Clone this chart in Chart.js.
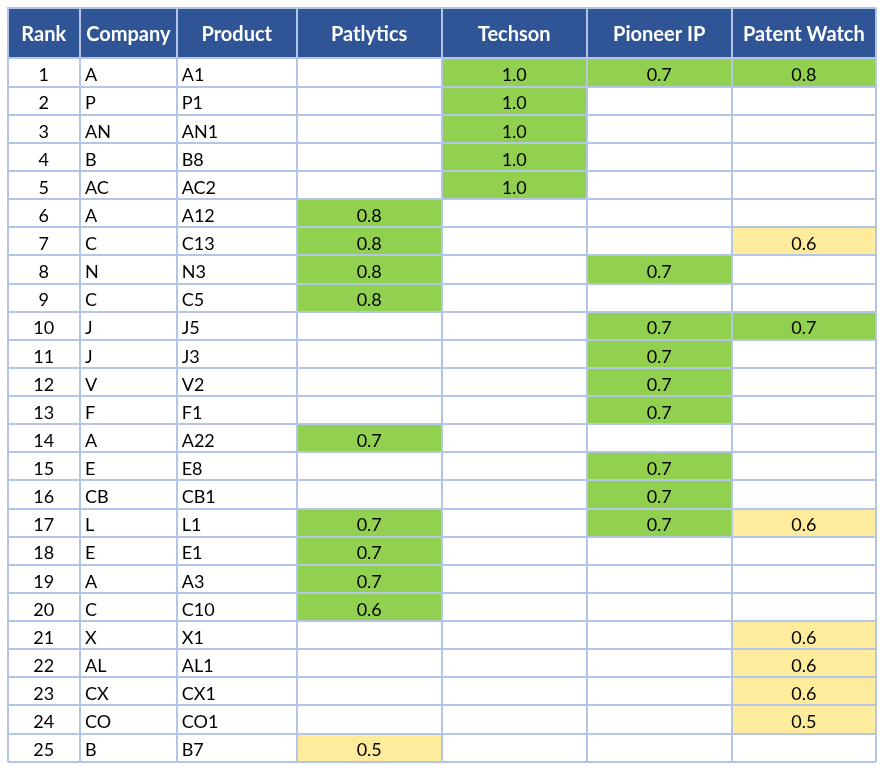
<!DOCTYPE html>
<html>
<head>
<meta charset="utf-8">
<script src="https://cdn.jsdelivr.net/npm/chart.js@4.4.1/dist/chart.umd.min.js"></script>
<style>
  html, body { margin: 0; padding: 0; background: #ffffff; }
  #wrap { width: 886px; height: 774px; position: relative; }
</style>
</head>
<body>
<div id="wrap"><canvas id="scoreTable"></canvas></div>
<script>
// Table content
const headers = ['Rank', 'Company', 'Product', 'Patlytics', 'Techson', 'Pioneer IP', 'Patent Watch'];
const ranks = [1, 2, 3, 4, 5, 6, 7, 8, 9, 10, 11, 12, 13, 14, 15, 16, 17, 18, 19, 20, 21, 22, 23, 24, 25];
const companies = ['A', 'P', 'AN', 'B', 'AC', 'A', 'C', 'N', 'C', 'J', 'J', 'V', 'F', 'A', 'E', 'CB', 'L', 'E', 'A', 'C', 'X', 'AL', 'CX', 'CO', 'B'];
const products = ['A1', 'P1', 'AN1', 'B8', 'AC2', 'A12', 'C13', 'N3', 'C5', 'J5', 'J3', 'V2', 'F1', 'A22', 'E8', 'CB1', 'L1', 'E1', 'A3', 'C10', 'X1', 'AL1', 'CX1', 'CO1', 'B7'];

// Scores per tool, null = blank cell
const patlytics   = [null, null, null, null, null, 0.8, 0.8, 0.8, 0.8, null, null, null, null, 0.7, null, null, 0.7, 0.7, 0.7, 0.6, null, null, null, null, 0.5];
const techson     = [1.0, 1.0, 1.0, 1.0, 1.0, null, null, null, null, null, null, null, null, null, null, null, null, null, null, null, null, null, null, null, null];
const pioneerIP   = [0.7, null, null, null, null, null, null, 0.7, null, 0.7, 0.7, 0.7, 0.7, null, 0.7, 0.7, 0.7, null, null, null, null, null, null, null, null];
const patentWatch = [0.8, null, null, null, null, null, 0.6, null, null, 0.7, null, null, null, null, null, null, 0.6, null, null, null, 0.6, 0.6, 0.6, 0.5, null];
// score from which a tool's cell turns green (otherwise yellow)
const greenFrom = [0.6, 0.7, 0.7, 0.7];

const toolScores = [patlytics, techson, pioneerIP, patentWatch];

// Layout (not data)
const colWidths = [72.5, 96.7, 120, 145, 145, 145, 144.3];
const headerRows = 1.813; // header height in row units
const GREEN = '#92D050';
const YELLOW = '#FFEB9C';
const HEADER_BG = '#2F5597';
const LINE = '#B4C6E7';

const colEdges = [0];
colWidths.forEach(w => colEdges.push(colEdges[colEdges.length - 1] + w));

const datasets = toolScores.map((scores, t) => {
    const col = 3 + t;
    const points = [];
    scores.forEach((v, i) => {
        if (v === null) return;
        points.push({ y: i + 0.5, x: [colEdges[col], colEdges[col + 1]], score: v });
    });
    return {
        label: headers[col],
        data: points,
        grouped: false,
        barPercentage: 1,
        categoryPercentage: 1,
        borderWidth: 0,
        borderSkipped: false,
        backgroundColor: ctx => (ctx.raw && ctx.raw.score >= greenFrom[t] - 1e-9) ? GREEN : YELLOW
    };
});

const tablePlugin = {
    id: 'tablePlugin',
    beforeDatasetsDraw(chart) {
        const { ctx, scales: { x, y } } = chart;
        const x0 = x.getPixelForValue(colEdges[0]);
        const x1 = x.getPixelForValue(colEdges[colEdges.length - 1]);
        const y0 = y.getPixelForValue(-headerRows);
        const y1 = y.getPixelForValue(0);
        ctx.save();
        ctx.fillStyle = HEADER_BG;
        ctx.fillRect(x0, y0, x1 - x0, y1 - y0);
        ctx.restore();
    },
    afterDraw(chart) {
        const { ctx, scales: { x, y } } = chart;
        const center = c => (x.getPixelForValue(colEdges[c]) + x.getPixelForValue(colEdges[c + 1])) / 2;
        ctx.save();
        ctx.textBaseline = 'alphabetic';

        // header labels
        ctx.fillStyle = '#ffffff';
        ctx.font = 'bold 20px Lato';
        ctx.textAlign = 'center';
        const hy = (y.getPixelForValue(-headerRows) + y.getPixelForValue(0)) / 2 + 7.7;
        headers.forEach((h, c) => ctx.fillText(h, center(c), hy));

        // body
        ctx.fillStyle = '#000000';
        ctx.font = '18px Lato';
        ranks.forEach((r, i) => {
            const by = y.getPixelForValue(i + 0.5) + 8.7;
            ctx.textAlign = 'center';
            ctx.fillText(String(r), center(0), by);
            ctx.textAlign = 'left';
            ctx.fillText(companies[i], x.getPixelForValue(colEdges[1]) + 5, by);
            ctx.fillText(products[i], x.getPixelForValue(colEdges[2]) + 5, by);
            ctx.textAlign = 'center';
            toolScores.forEach((scores, t) => {
                if (scores[i] !== null) ctx.fillText(scores[i].toFixed(1), center(3 + t), by);
            });
        });
        ctx.restore();
    }
};

const gridOpts = { color: LINE, lineWidth: 2, drawTicks: false, offset: false, z: 1 };

new Chart(document.getElementById('scoreTable'), {
    type: 'bar',
    data: { datasets: datasets },
    options: {
        indexAxis: 'y',
        responsive: true,
        maintainAspectRatio: false,
        animation: false,
        layout: { padding: { left: 7.5, top: 7.5, right: 10, bottom: 12.3 } },
        plugins: { legend: { display: false }, tooltip: { enabled: false } },
        scales: {
            x: {
                type: 'linear',
                min: colEdges[0],
                max: colEdges[colEdges.length - 1],
                offset: false,
                grid: gridOpts,
                border: { display: false },
                ticks: { display: false },
                afterBuildTicks: scale => { scale.ticks = colEdges.map(v => ({ value: v })); }
            },
            y: {
                type: 'linear',
                reverse: true,
                min: -headerRows,
                max: ranks.length,
                offset: false,
                grid: gridOpts,
                border: { display: false },
                ticks: { display: false },
                afterBuildTicks: scale => {
                    scale.ticks = [{ value: -headerRows }].concat(ranks.map((r, i) => ({ value: i })), [{ value: ranks.length }]);
                }
            }
        }
    },
    plugins: [tablePlugin]
});
</script>
</body>
</html>
